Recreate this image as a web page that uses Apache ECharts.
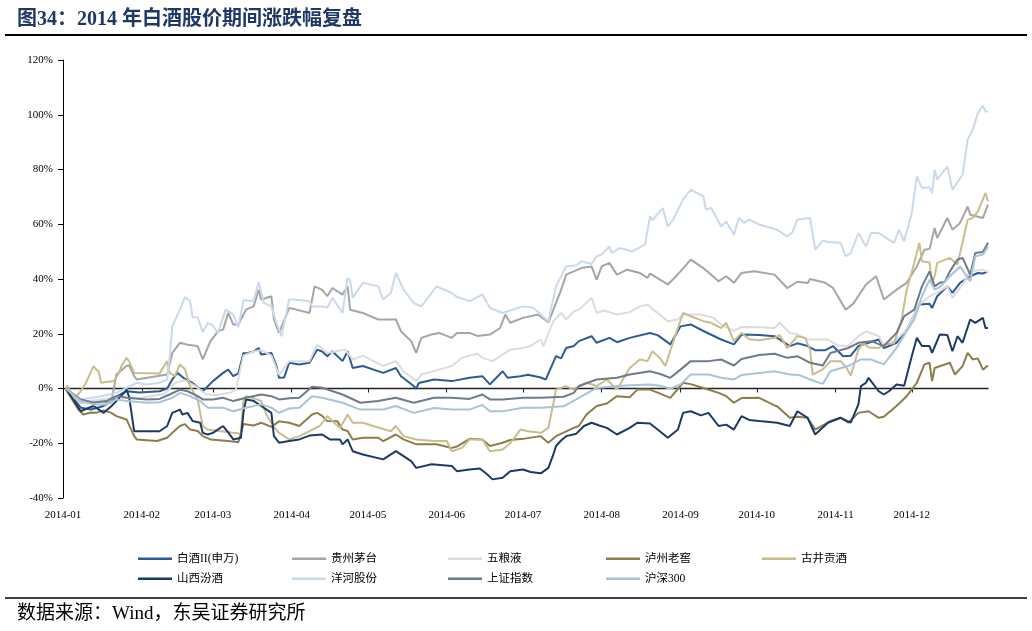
<!DOCTYPE html>
<html><head><meta charset="utf-8">
<script src="https://cdn.jsdelivr.net/npm/echarts@6/dist/echarts.min.js"></script>
<style>html,body{margin:0;padding:0;background:#fff}#c{width:1032px;height:631px}</style>
</head><body><div id="c"></div>
<script>
const titleText = '图34：2014 年白酒股价期间涨跌幅复盘';
const sourceText = '数据来源：Wind，东吴证券研究所';
const seriesNames = ['白酒II(申万)','贵州茅台','五粮液','泸州老窖','古井贡酒','山西汾酒','洋河股份','上证指数','沪深300'];
const seriesColors = ['#2e5b94','#a5a5a5','#dcdcdc','#8b7e4b','#c9bc8d','#1b3a65','#cad9eb','#6d7b8a','#a8c4d6'];
const monthTicks = ['2014-01-01','2014-02-01','2014-03-01','2014-04-01','2014-05-01','2014-06-01','2014-07-01','2014-08-01','2014-09-01','2014-10-01','2014-11-01','2014-12-01'];
const yTicks = [-40,-20,0,20,40,60,80,100,120];

const baijiu = [['01-02',0],['01-08',-7],['01-12',-7.7],['01-17',-6.4],['01-20',-4.6],['01-22',-3],['01-26',-1],['01-31',-1.5],['02-08',-1],['02-11',0],['02-13',3.3],['02-15',5.7],['02-18',3.5],['02-21',2],['02-24',-0.4],['02-25',-1],['03-01',2.7],['03-05',5.7],['03-07',6.9],['03-09',4.5],['03-11',5.5],['03-13',13],['03-14',12.8],['03-17',13.5],['03-19',14.8],['03-20',12.4],['03-24',13],['03-26',8.2],['03-27',3.9],['03-29',4],['03-31',9.4],['04-04',8.8],['04-08',9.4],['04-11',14.2],['04-13',13.5],['04-15',11.8],['04-17',13.6],['04-21',10],['04-23',13.6],['04-25',7.5],['04-29',8.2],['05-07',5.7],['05-12',7.5],['05-14',4.5],['05-19',0.9],['05-20',-0.1],['05-21',2],['05-27',3.3],['06-03',2.7],['06-10',3.9],['06-15',4.5],['06-18',1.5],['06-23',6.3],['06-25',3.9],['06-30',4.5],['07-03',5],['07-08',4],['07-10',3.3],['07-14',11.8],['07-16',11],['07-18',14.8],['07-21',15.5],['07-23',17.3],['07-28',19.1],['07-30',16.7],['08-04',18.5],['08-07',16.9],['08-12',18.5],['08-20',20.3],['08-23',19.5],['08-28',16.1],['09-01',22.7],['09-05',23.4],['09-10',21],['09-17',17.9],['09-22',16.1],['09-25',19.7],['10-02',19.5],['10-08',19.1],['10-14',15.5],['10-17',16.5],['10-21',15.5],['10-24',14],['10-28',14],['10-31',15.5],['11-04',11.8],['11-07',12],['11-10',15.5],['11-18',17.9],['11-20',14.8],['11-25',16.7],['11-29',21.5],['12-04',30.7],['12-08',31],['12-09',29.4],['12-11',33.7],['12-15',37.3],['12-17',34.9],['12-20',38.6],['12-24',41],['12-27',42.2],['12-29',42],['12-31',42.8]];
const maotai = [['01-02',0],['01-08',-5.2],['01-14',-4.5],['01-20',-5.2],['01-22',5.1],['01-26',8.2],['01-27',8.5],['01-29',4.5],['01-30',3.3],['02-11',5.1],['02-13',13],['02-16',16.7],['02-19',16],['02-23',15.5],['02-25',10.6],['02-28',17.3],['03-03',20.9],['03-05',21.5],['03-07',27.6],['03-09',23.4],['03-11',23.4],['03-14',28.8],['03-17',30],['03-19',36.1],['03-20',32.5],['03-24',33.7],['03-25',25.2],['03-27',20.3],['03-31',29.4],['04-02',29],['04-08',27.6],['04-10',37.3],['04-13',36],['04-15',33.7],['04-17',36.7],['04-21',34.3],['04-23',37.3],['04-24',28.8],['04-29',27.6],['05-05',25.2],['05-12',25.2],['05-14',20.9],['05-18',17.3],['05-20',13],['05-22',18.5],['05-26',19.7],['05-29',20.3],['06-03',18.5],['06-05',20.3],['06-10',20.3],['06-13',19.2],['06-18',19.7],['06-22',22.1],['06-24',27],['06-26',24],['07-01',25.8],['07-07',27],['07-11',24.2],['07-13',28.8],['07-16',36],['07-18',41.6],['07-24',44],['07-28',44.6],['07-30',39.8],['08-01',44.6],['08-04',45.9],['08-07',41.6],['08-11',43.4],['08-16',42.2],['08-19',40.4],['08-20',42],['08-27',38],['08-29',39.8],['09-01',42.8],['09-05',47.1],['09-10',44],['09-16',39.2],['09-19',41],['09-22',38.6],['09-25',42.2],['09-30',42.8],['10-08',41.6],['10-13',36.7],['10-17',39],['10-21',38.5],['10-22',40],['10-28',38.6],['10-31',36.7],['11-05',28.8],['11-08',31],['11-13',38],['11-17',41],['11-20',32.5],['11-25',36.1],['11-29',38.6],['12-03',44.6],['12-06',50.7],['12-08',51],['12-10',58.6],['12-11',55],['12-15',62.3],['12-17',58],['12-20',60.5],['12-23',66.5],['12-24',63.5],['12-29',62.3],['12-31',67.2]];
const wuliangye = [['01-02',0],['01-08',-5],['01-16',-4],['01-23',-3],['01-31',-3.5],['02-10',-2],['02-14',2],['02-18',3],['02-22',1],['02-26',-2],['03-02',-2.5],['03-08',-1.5],['03-10',-0.5],['03-13',12],['03-17',13.5],['03-20',14],['03-24',12],['03-27',5],['03-31',10],['04-08',10],['04-11',16],['04-15',13],['04-22',14.2],['04-25',10.6],['04-29',12],['05-07',8.2],['05-12',10],['05-15',6.3],['05-20',2.7],['05-22',5.1],['05-29',6.9],['06-03',8.2],['06-07',11.2],['06-13',12.8],['06-15',11.2],['06-19',10],['06-23',12.4],['06-26',14.2],['07-01',14.8],['07-04',15.5],['07-08',17.9],['07-09',15.5],['07-13',24.6],['07-16',27.6],['07-18',25.2],['07-21',28.2],['07-23',28.8],['07-28',33.1],['07-30',27.6],['08-02',28.5],['08-07',27],['08-12',27.9],['08-16',30],['08-19',30.7],['08-21',29],['08-27',24.6],['08-31',25.2],['09-02',27],['09-09',27],['09-14',25.8],['09-17',23.4],['09-22',21],['09-25',22.5],['10-02',22.4],['10-08',22.1],['10-10',24],['10-14',20.3],['10-17',19.7],['10-21',17.9],['10-29',17.9],['11-02',15.7],['11-06',15.5],['11-10',19.1],['11-13',20.9],['11-18',19.1],['11-20',15.5],['11-25',17.9],['11-29',21.5],['12-04',30.7],['12-08',33.7],['12-11',35],['12-15',37.3],['12-17',33.1],['12-21',38],['12-24',42.8],['12-29',43.4],['12-31',42.5]];
const luzhou = [['01-02',0],['01-07',-7.7],['01-09',-9.5],['01-12',-8.8],['01-14',-8.9],['01-17',-8],['01-20',-8.9],['01-22',-10.1],['01-26',-11.3],['01-29',-17.4],['01-30',-18.6],['02-07',-19.2],['02-11',-18],['02-13',-16.2],['02-16',-13.7],['02-18',-13],['02-20',-15],['02-23',-15.5],['02-25',-17.4],['02-28',-18.6],['03-07',-19.2],['03-11',-19.6],['03-13',-13],['03-17',-13.5],['03-20',-12.5],['03-24',-14],['03-27',-12],['03-31',-12.5],['04-04',-13.7],['04-09',-9.5],['04-11',-8.9],['04-13',-10],['04-15',-11.9],['04-19',-12],['04-21',-15],['04-23',-15.5],['04-25',-18.6],['04-29',-18],['05-05',-18],['05-07',-19.2],['05-12',-16.8],['05-15',-18.6],['05-20',-20.4],['05-28',-20.4],['06-03',-21.7],['06-05',-21.2],['06-10',-18.4],['06-15',-18.6],['06-18',-21],['06-23',-19.8],['06-26',-18.8],['07-01',-18.4],['07-08',-17.4],['07-11',-19.8],['07-14',-17.4],['07-21',-14.4],['07-23',-13.7],['07-26',-9.5],['07-30',-6.4],['08-03',-5.5],['08-07',-2.8],['08-12',-3.2],['08-15',-0.4],['08-20',-0.4],['08-23',-1.5],['08-28',-3.4],['09-02',2.1],['09-05',1.6],['09-10',0.2],['09-16',-1.6],['09-19',-2.8],['09-22',-5.2],['09-25',-3.5],['10-02',-3.4],['10-08',-6.2],['10-09',-6.5],['10-14',-10.7],['10-17',-10.3],['10-21',-10.7],['10-24',-15],['10-30',-11.9],['11-03',-10.7],['11-06',-12.5],['11-10',-8.9],['11-14',-8.3],['11-18',-10.7],['11-20',-10.3],['11-25',-6.4],['11-29',-2.8],['12-03',2.1],['12-06',8.8],['12-08',9.4],['12-09',2.7],['12-10',7.5],['12-16',9.4],['12-18',5.1],['12-21',8.2],['12-23',13],['12-25',10.6],['12-27',11],['12-29',6.9],['12-31',8.4]];
const gujing = [['01-02',0],['01-03',1],['01-05',-4],['01-08',-1],['01-10',2],['01-13',8.2],['01-14',7],['01-15',6.3],['01-16',2.1],['01-21',2.7],['01-23',5.7],['01-24',8.2],['01-26',11.2],['01-27',10],['01-29',5.7],['02-08',5.5],['02-11',10],['02-12',5.7],['02-14',4.5],['02-16',8.8],['02-18',7],['02-20',0.9],['02-23',-4],['02-24',-8.9],['02-25',-13.7],['02-27',-15],['03-04',-15.6],['03-09',-16.2],['03-12',-16.5],['03-13',-4],['03-14',-2.8],['03-17',-3.5],['03-20',-4.5],['03-22',-9.5],['03-25',-14],['03-27',-16.2],['03-31',-18.6],['04-04',-17.4],['04-08',-15.6],['04-12',-13.7],['04-15',-10.1],['04-17',-11.9],['04-20',-14.4],['04-23',-9.5],['04-25',-12.5],['04-29',-12.5],['05-03',-13.7],['05-10',-15.6],['05-12',-13.7],['05-15',-17.4],['05-20',-18.6],['05-27',-19.2],['06-01',-19.2],['06-03',-22.9],['06-07',-21.7],['06-10',-18.6],['06-15',-18.6],['06-18',-22.9],['06-23',-22.3],['06-26',-20],['06-30',-15],['07-03',-15.6],['07-08',-16.2],['07-11',-14.4],['07-13',-5.2],['07-14',-0.4],['07-18',0.9],['07-21',-0.4],['07-26',2.1],['07-30',0.9],['08-03',3.3],['08-07',-0.4],['08-12',7.5],['08-16',10.6],['08-19',10],['08-21',13.6],['08-24',11],['08-26',8.2],['08-29',16.7],['09-02',27.6],['09-05',26.4],['09-10',24.6],['09-13',24],['09-17',22.1],['09-19',24],['09-22',17.3],['09-25',20.3],['09-28',18],['10-02',17.6],['10-08',18.5],['10-10',19.5],['10-13',14.8],['10-17',19.1],['10-20',18.5],['10-22',14.2],['10-23',5.1],['10-27',7],['10-30',10],['11-03',10],['11-05',8],['11-07',4.7],['11-10',14.2],['11-12',16.7],['11-14',15],['11-18',14.8],['11-20',16],['11-24',16.5],['11-27',25.2],['11-29',36.1],['12-02',45.9],['12-04',53.2],['12-05',46.5],['12-08',46],['12-09',38.6],['12-10',41],['12-11',45.9],['12-16',47.7],['12-19',45.3],['12-23',61.7],['12-25',62.3],['12-27',64.7],['12-30',71.4],['12-31',68.4]];
const fenjiu = [['01-02',0],['01-05',-4],['01-08',-8.3],['01-10',-7.5],['01-13',-6.4],['01-14',-7],['01-17',-8.9],['01-20',-6.5],['01-22',-4.6],['01-25',-1.6],['01-26',-0.4],['01-27',-3],['01-29',-15.6],['02-08',-15.6],['02-11',-13.7],['02-13',-8.9],['02-16',-7.7],['02-17',-9.5],['02-19',-8.9],['02-21',-11.9],['02-24',-12.5],['02-25',-16.2],['02-27',-16.8],['03-01',-16.2],['03-05',-13.7],['03-07',-16],['03-09',-18.6],['03-12',-18],['03-13',-8.9],['03-14',-4],['03-17',-4.5],['03-20',-6.4],['03-24',-8.9],['03-25',-17.4],['03-27',-19.8],['03-31',-19.2],['04-04',-18.6],['04-08',-17.2],['04-13',-16.8],['04-16',-18.6],['04-20',-18.6],['04-21',-20.4],['04-23',-18.6],['04-25',-22.9],['04-29',-24.1],['05-07',-25.9],['05-12',-22.9],['05-18',-26.5],['05-20',-29],['05-26',-27.7],['06-03',-28.3],['06-05',-30.2],['06-10',-29.6],['06-14',-29.2],['06-17',-31.4],['06-19',-33.2],['06-23',-32.6],['06-26',-30.2],['07-01',-29.6],['07-04',-30.5],['07-08',-31],['07-11',-29],['07-13',-24],['07-14',-21],['07-16',-19],['07-18',-17.4],['07-22',-16.5],['07-25',-13.7],['07-28',-12.5],['07-31',-13.5],['08-03',-14.4],['08-07',-16.8],['08-12',-14.4],['08-15',-12.5],['08-20',-12.8],['08-23',-15],['08-27',-18],['08-31',-15],['09-02',-8.9],['09-05',-8.3],['09-09',-9.8],['09-12',-8.9],['09-16',-13.7],['09-19',-13.2],['09-22',-15],['09-25',-10.1],['09-28',-11.5],['10-02',-11.9],['10-09',-12.5],['10-14',-13.7],['10-17',-8.3],['10-21',-10.7],['10-24',-16.8],['10-29',-12.5],['11-03',-10.7],['11-07',-12.5],['11-10',-5.8],['11-11',0.9],['11-13',2.1],['11-14',3.9],['11-18',-1],['11-20',-2.2],['11-22',-1],['11-25',1.5],['11-28',1],['12-01',11.8],['12-03',18.5],['12-05',15.5],['12-08',15.5],['12-09',13],['12-12',19.7],['12-15',19.5],['12-17',13.6],['12-19',19.1],['12-21',16.7],['12-24',25.2],['12-26',24],['12-29',25.8],['12-30',22.1],['12-31',22.1]];
const yanghe = [['01-02',0],['01-08',-4],['01-12',-3.5],['01-16',-2.8],['01-20',-2],['01-22',-1.6],['01-26',0.2],['01-30',2.1],['02-03',1.5],['02-08',2.1],['02-11',3.3],['02-12',11.8],['02-13',22.7],['02-16',28.8],['02-18',33.4],['02-20',32],['02-21',26],['02-23',26],['02-25',20.6],['02-27',24],['03-01',23],['03-03',20.3],['03-06',28.8],['03-09',27],['03-11',22.4],['03-13',32.2],['03-17',32],['03-19',38.9],['03-21',31.3],['03-24',30],['03-26',24],['03-28',19.1],['03-31',32.5],['04-02',32.5],['04-08',31.9],['04-09',30],['04-13',30],['04-15',29.5],['04-17',33.1],['04-21',27.6],['04-23',40.4],['04-24',39.5],['04-25',33.1],['04-29',38.6],['05-05',37.3],['05-07',32.5],['05-10',34.9],['05-12',42.2],['05-15',36.1],['05-19',31.3],['05-22',30],['05-28',37.3],['06-03',34.9],['06-05',33.5],['06-10',31.9],['06-15',34.3],['06-18',29.4],['06-23',27.6],['06-26',28.5],['07-01',30],['07-05',29.5],['07-11',24.6],['07-14',37.3],['07-18',44.6],['07-22',45],['07-24',46.5],['07-28',45.5],['07-30',48.3],['08-01',48.9],['08-04',51.9],['08-05',49.5],['08-08',51.3],['08-13',50.1],['08-18',52.6],['08-20',62.9],['08-21',61.5],['08-25',65.9],['08-27',59.2],['08-29',61.5],['09-02',69],['09-05',72.6],['09-10',70.2],['09-11',65.3],['09-13',66],['09-17',59.2],['09-19',61],['09-22',56.2],['09-24',62.3],['09-26',60.5],['09-28',61.7],['10-02',59.9],['10-09',58],['10-13',55.6],['10-15',57],['10-17',61.7],['10-22',62.3],['10-24',50.7],['10-27',54],['10-29',53.5],['11-03',53.2],['11-05',48.3],['11-07',49.5],['11-10',56.8],['11-13',51.9],['11-15',56.8],['11-18',56.8],['11-20',55.6],['11-24',53.2],['11-26',58],['11-28',53.8],['12-01',64.1],['12-03',77.5],['12-05',73.2],['12-08',73.5],['12-09',71.4],['12-10',79.9],['12-11',76.3],['12-15',81.1],['12-17',72.6],['12-21',78.1],['12-23',90.9],['12-25',94.5],['12-27',100.6],['12-29',103.3],['12-30',101.2],['12-31',101.2]];
const shIndex = [['01-02',0],['01-08',-4],['01-13',-5.2],['01-18',-4.6],['01-22',-2.8],['01-26',-3.4],['02-03',-4],['02-08',-3.8],['02-12',-2.2],['02-16',-0.4],['02-19',-1],['02-23',-2.8],['02-25',-4],['03-01',-4],['03-05',-3.4],['03-09',-4.6],['03-14',-3.4],['03-20',-2.2],['03-24',-2.8],['03-27',-4],['03-31',-3.6],['04-04',-3.4],['04-09',0.6],['04-13',0.3],['04-21',-2.2],['04-28',-5.2],['05-05',-4.6],['05-12',-3.4],['05-19',-5.2],['05-27',-3.4],['06-03',-3.4],['06-10',-3.8],['06-15',-2.2],['06-18',-4],['06-23',-4],['07-01',-3.4],['07-08',-3.4],['07-17',-3],['07-21',-1.6],['07-23',0.9],['07-30',3.3],['08-07',3.9],['08-12',5.1],['08-20',6.3],['08-24',5.3],['08-28',3.9],['09-01',6.9],['09-05',10],['09-12',10],['09-17',10.6],['09-22',8.4],['09-25',10.8],['10-02',12.2],['10-08',12.7],['10-13',11.2],['10-17',11.8],['10-22',9.4],['10-27',8.4],['10-30',13],['11-06',14.8],['11-10',16.7],['11-15',17.3],['11-20',15.5],['11-25',20.3],['11-28',26.4],['12-02',28.8],['12-05',37.3],['12-08',42.8],['12-10',37.3],['12-12',38.6],['12-14',39],['12-16',42.8],['12-19',47.1],['12-21',47.7],['12-24',41.6],['12-26',49.5],['12-29',49.9],['12-31',53.2]];
const hs300 = [['01-02',0],['01-08',-4.6],['01-13',-5.8],['01-18',-5.8],['01-22',-4],['01-26',-4.6],['02-03',-5.2],['02-08',-5],['02-13',-3.4],['02-16',-1.6],['02-20',-2.8],['02-24',-4.6],['02-27',-7],['03-05',-7],['03-09',-8.3],['03-14',-7],['03-20',-5.8],['03-24',-7],['03-27',-8.9],['03-31',-7.3],['04-04',-7],['04-09',-2.8],['04-13',-3.4],['04-21',-5.2],['04-28',-7.7],['05-07',-7.7],['05-12',-6.4],['05-19',-8.9],['05-27',-7.1],['06-03',-7.7],['06-10',-7.7],['06-15',-6],['06-18',-8.3],['06-23',-8.3],['07-01',-7],['07-08',-7],['07-17',-6.5],['07-23',-3.4],['07-30',0.2],['08-07',0.9],['08-12',1.2],['08-20',1.5],['08-24',1],['08-28',-0.1],['09-01',1.5],['09-05',5.1],['09-12',5.1],['09-17',3.9],['09-22',3.3],['09-25',4.9],['10-02',5.7],['10-08',6.3],['10-14',5.1],['10-18',4.8],['10-22',3.3],['10-27',1.7],['10-30',6.3],['11-06',8.2],['11-11',10.6],['11-15',10.6],['11-20',8.8],['11-25',14.8],['11-29',20.9],['12-02',25.2],['12-05',33.7],['12-08',39.8],['12-10',36.1],['12-12',37],['12-16',41],['12-20',44.6],['12-24',39.2],['12-26',48.3],['12-29',48.9],['12-31',51.9]];

const seriesData = [baijiu, maotai, wuliangye, luzhou, gujing, fenjiu, yanghe, shIndex, hs300];

const parseT = s => { const a = s.split('-').map(Number); return Date.UTC(a[0], a[1] - 1, a[2]); };
const tMin = parseT('2014-01-01');
const tMax = parseT('2014-12-31');
const monthVals = monthTicks.map(parseT);
const fmtMonth = v => { const d = new Date(v); const m = d.getUTCMonth() + 1; return d.getUTCFullYear() + '-' + (m < 10 ? '0' + m : m); };

const serif = '"Liberation Serif", "Noto Sans CJK SC", serif';
const legendCols = [138, 292, 448, 606, 762];
const legendRows = [553, 573];

const chart = echarts.init(document.getElementById('c'), null, {renderer: 'canvas'});
chart.setOption({
  animation: false,
  backgroundColor: '#fff',
  title: {
    text: titleText, left: 17, top: 10, padding: 0,
    textStyle: {fontFamily: serif, fontSize: 20, fontWeight: 'bold', color: '#1f3864'}
  },
  graphic: [
    {type: 'line', shape: {x1: 5, y1: 35, x2: 1027, y2: 35}, style: {stroke: '#000', lineWidth: 2}},
    {type: 'line', shape: {x1: 5, y1: 598, x2: 1027, y2: 598}, style: {stroke: '#000', lineWidth: 1.5}},
    {type: 'text', left: 17, top: 605, style: {text: sourceText, font: '19px ' + serif, fill: '#000'}}
  ],
  legend: seriesNames.map((n, i) => ({
    data: [n], left: legendCols[i % 5], top: legendRows[Math.floor(i / 5)], padding: 0,
    icon: 'rect', itemWidth: 34, itemHeight: 2.5, itemGap: 0,
    textStyle: {fontFamily: serif, fontSize: 11.5, color: '#000'},
    selectedMode: false
  })),
  grid: {left: 63, top: 60, width: 925, height: 438, containLabel: false},
  xAxis: [
    {
      type: 'value', min: tMin, max: tMax, position: 'bottom', scale: true,
      axisLine: {show: false, onZero: false}, axisTick: {show: false}, splitLine: {show: false},
      axisLabel: {customValues: monthVals, formatter: fmtMonth, fontFamily: serif, fontSize: 11, color: '#000', margin: 12, hideOverlap: false}
    },
    {
      type: 'value', min: tMin, max: tMax, position: 'top', scale: true,
      axisLine: {show: true, onZero: true, lineStyle: {color: '#222', width: 1.3}},
      axisTick: {show: true, inside: true, length: 4, customValues: monthVals.slice(1), lineStyle: {color: '#222'}},
      axisLabel: {show: false}, splitLine: {show: false}
    }
  ],
  yAxis: {
    type: 'value', min: -40, max: 120, interval: 20,
    axisLine: {show: true, onZero: false, lineStyle: {color: '#000', width: 1}},
    axisTick: {show: true, length: 5, lineStyle: {color: '#000'}},
    splitLine: {show: false},
    axisLabel: {formatter: '{value}%', fontFamily: serif, fontSize: 11, color: '#000', margin: 10}
  },
  series: seriesNames.map((n, i) => ({
    name: n, type: 'line', xAxisIndex: 0, yAxisIndex: 0,
    symbol: 'none', showSymbol: false,
    lineStyle: {width: 2, color: seriesColors[i]},
    itemStyle: {color: seriesColors[i]},
    data: seriesData[i].map(p => [parseT('2014-' + p[0]), p[1]])
  }))
});
</script></body></html>
